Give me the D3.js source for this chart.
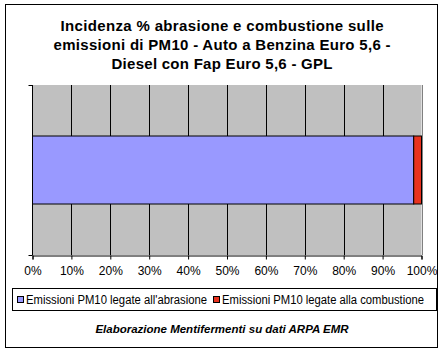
<!DOCTYPE html>
<html><head><meta charset="utf-8">
<script src="https://cdn.jsdelivr.net/npm/d3@7"></script>
<style>body{margin:0;background:#fff}svg{display:block}text{font-family:"Liberation Sans",Arial,sans-serif}</style>
</head><body><svg id="c" width="445" height="353"></svg>
<script>
const titleLines = ["Incidenza % abrasione e combustione sulle","emissioni di PM10 - Auto a Benzina Euro 5,6 -","Diesel con Fap Euro 5,6 - GPL"];
const categories = ["Auto"];
const seriesNames = ["Emissioni PM10 legate all'abrasione","Emissioni PM10 legate alla combustione"];
const seriesColors = ["#9999ff","#e8321f"];
const abrasione = [98.0];
const combustione = [2.0];
const tickValues = [0,10,20,30,40,50,60,70,80,90,100];
const footer = "Elaborazione Mentifermenti su dati ARPA EMR";

const svg = d3.select("#c");
svg.append("rect").attr("x",5.5).attr("y",4.5).attr("width",432).attr("height",343).attr("fill","#fff").attr("stroke","#000");

const titleW = [323,337,221];
const tg = svg.append("g");
titleLines.forEach((t,i)=>tg.append("text").attr("x",222).attr("y",31+i*19).attr("text-anchor","middle")
  .attr("font-size",15).attr("font-weight","bold").attr("textLength",titleW[i]).attr("lengthAdjust","spacing").text(t));

const x = d3.scaleLinear().domain([0,100]).range([32.5,421.5]);
const y = d3.scaleBand().domain(categories).range([85,255]).paddingInner(0.6).paddingOuter(0.3);

svg.append("rect").attr("x",x(0)).attr("y",85).attr("width",x(100)-x(0)).attr("height",170).attr("fill","#c0c0c0");
svg.append("g").selectAll("line").data(tickValues.slice(1)).join("line")
  .attr("x1",d=>Math.round(x(d))+0.5).attr("x2",d=>Math.round(x(d))+0.5).attr("y1",85).attr("y2",255)
  .attr("stroke",d=>d===100?"#808080":"#000");

const stackData = categories.map((c,i)=>({cat:c,a:abrasione[i],b:combustione[i]}));
const stack = d3.stack().keys(["a","b"])(stackData);
svg.append("g").selectAll("g").data(stack).join("g").attr("fill",(d,i)=>seriesColors[i])
  .selectAll("rect").data(d=>d).join("rect")
  .attr("x",d=>x(d[0])).attr("width",d=>x(d[1])-x(d[0]))
  .attr("y",d=>y(d.data.cat)).attr("height",y.bandwidth())
  .attr("stroke","#000").attr("stroke-width",1);

const xa = svg.append("g").attr("transform","translate(0,255.5)")
  .call(d3.axisBottom(x).tickValues(tickValues).tickSize(4).tickFormat(d=>d+"%"));
xa.select(".domain").attr("stroke","#000");
xa.selectAll("text").attr("font-size",12).attr("font-family","'Liberation Sans',Arial").attr("dy","1.05em").attr("fill","#000");
xa.selectAll("line").attr("stroke","#000");
const ya = svg.append("g").attr("transform","translate(32.5,0)");
ya.append("line").attr("y1",85).attr("y2",255.5).attr("stroke","#000");
[85,255].forEach(v=>ya.append("line").attr("x1",-4).attr("x2",0).attr("y1",v+0.5).attr("y2",v+0.5).attr("stroke","#000"));

const lg = svg.append("g");
lg.append("rect").attr("x",12.5).attr("y",288.5).attr("width",424).attr("height",22).attr("fill","#fff").attr("stroke","#000");
const lx = [17,213], lw = [181,202];
seriesNames.forEach((n,i)=>{
  lg.append("rect").attr("x",lx[i]+0.5).attr("y",296.5).attr("width",6).attr("height",6).attr("fill",seriesColors[i]).attr("stroke","#000");
  lg.append("text").attr("x",lx[i]+9).attr("y",304).attr("font-size",12).attr("textLength",lw[i]).attr("lengthAdjust","spacingAndGlyphs").text(n);
});

svg.append("text").attr("x",222).attr("y",333).attr("text-anchor","middle").attr("font-size",11.5)
  .attr("font-weight","bold").attr("font-style","italic").text(footer);
</script></body></html>
